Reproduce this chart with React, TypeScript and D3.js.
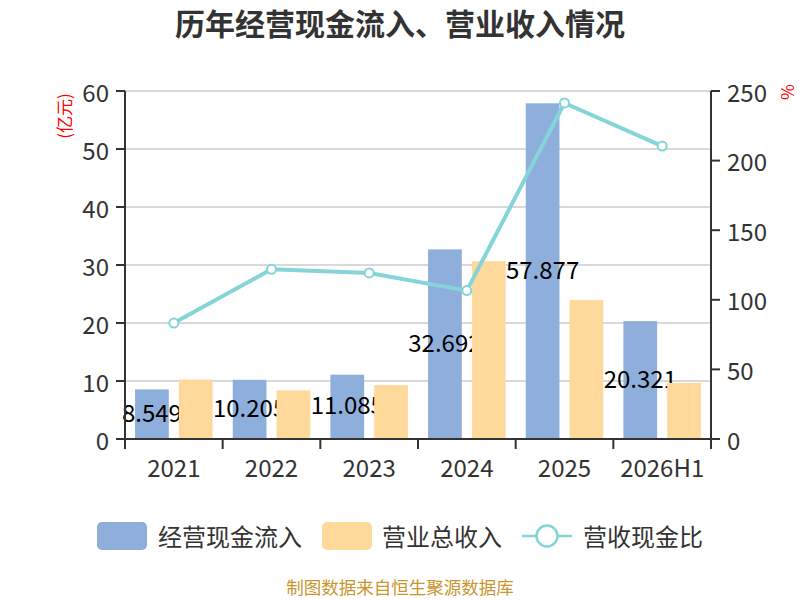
import React from 'react';
import * as d3 from 'd3';

const categories = ['2021', '2022', '2023', '2024', '2025', '2026H1'];
const cashInflow = [8.549, 10.205, 11.085, 32.692, 57.877, 20.321];
const revenue = [10.26, 8.37, 9.29, 30.66, 23.98, 9.66];
const ratio = [83.3, 121.9, 119.3, 106.6, 241.4, 210.4];
const leftTicks = [0, 10, 20, 30, 40, 50, 60];
const rightTicks = [0, 50, 100, 150, 200, 250];
const seriesNames = ['经营现金流入', '营业总收入', '营收现金比'];

const font = '"Noto Sans CJK SC", "Noto Sans", sans-serif';
const blue = '#8EAEDB';
const orange = '#FFD99B';
const teal = '#84D4D8';
const axisColor = '#333';

function App() {
  const width = 800;
  const height = 600;
  const left = 125;
  const right = 711;
  const top = 91;
  const bottom = 439;

  const x0 = d3.scaleBand<string>().domain(categories).range([left, right]).padding(0);
  const x1 = d3.scaleBand<string>().domain(['cash', 'rev']).range([0, x0.bandwidth()]).padding(0.23);
  const yL = d3.scaleLinear().domain([0, 60]).range([bottom, top]);
  const yR = d3.scaleLinear().domain([0, 250]).range([bottom, top]);

  const line = d3
    .line<number>()
    .x((_, i) => (x0(categories[i]) as number) + x0.bandwidth() / 2)
    .y(d => yR(d));

  const boundaries = categories.map(c => x0(c) as number).concat([right]);

  return (
    <svg
      width={width}
      height={height}
      viewBox={`0 0 ${width} ${height}`}
      style={{ position: 'absolute', left: 0, top: 0, background: '#fff', fontFamily: font }}
    >
      <text x={400} y={22} textAnchor="middle" dominantBaseline="central" fontSize={30} fontWeight="bold" fill="#333">
        历年经营现金流入、营业收入情况
      </text>

      {/* grid */}
      {leftTicks.map(t => (
        <line key={'g' + t} x1={left} x2={right} y1={yL(t)} y2={yL(t)} stroke="#ccc" strokeWidth={1.5} />
      ))}

      {/* cash inflow bars */}
      {cashInflow.map((v, i) => (
        <rect
          key={'c' + i}
          x={(x0(categories[i]) as number) + (x1('cash') as number)}
          y={yL(v)}
          width={x1.bandwidth()}
          height={bottom - yL(v)}
          fill={blue}
        />
      ))}
      {cashInflow.map((v, i) => (
        <text
          key={'l' + i}
          x={(x0(categories[i]) as number) + (x1('cash') as number) + x1.bandwidth() / 2}
          y={(yL(v) + bottom) / 2 - 3}
          textAnchor="middle"
          dominantBaseline="central"
          fontSize={24}
          fill="#000"
        >
          {v.toFixed(3)}
        </text>
      ))}

      {/* revenue bars */}
      {revenue.map((v, i) => (
        <rect
          key={'r' + i}
          x={(x0(categories[i]) as number) + (x1('rev') as number)}
          y={yL(v)}
          width={x1.bandwidth()}
          height={bottom - yL(v)}
          fill={orange}
        />
      ))}

      {/* ratio line */}
      <path d={line(ratio) as string} fill="none" stroke={teal} strokeWidth={4} strokeLinejoin="round" />
      {ratio.map((v, i) => (
        <circle
          key={'p' + i}
          cx={(x0(categories[i]) as number) + x0.bandwidth() / 2}
          cy={yR(v)}
          r={4.5}
          fill="#fff"
          stroke={teal}
          strokeWidth={2}
        />
      ))}

      {/* left axis */}
      <line x1={left} x2={left} y1={top} y2={bottom} stroke={axisColor} strokeWidth={2} />
      {leftTicks.map(t => (
        <g key={'lt' + t}>
          <line x1={left - 9} x2={left} y1={yL(t)} y2={yL(t)} stroke={axisColor} strokeWidth={2} />
          <text x={left - 16} y={yL(t)} textAnchor="end" dominantBaseline="central" fontSize={24} fill="#333">
            {t}
          </text>
        </g>
      ))}
      <text
        transform={`translate(63,116) rotate(-90)`}
        textAnchor="middle"
        dominantBaseline="central"
        fontSize={17}
        fill="#f00"
      >
        (亿元)
      </text>

      {/* right axis */}
      <line x1={right} x2={right} y1={top} y2={bottom} stroke={axisColor} strokeWidth={2} />
      {rightTicks.map(t => (
        <g key={'rt' + t}>
          <line x1={right} x2={right + 9} y1={yR(t)} y2={yR(t)} stroke={axisColor} strokeWidth={2} />
          <text x={right + 16} y={yR(t)} textAnchor="start" dominantBaseline="central" fontSize={24} fill="#333">
            {t}
          </text>
        </g>
      ))}
      <text
        transform={`translate(788,92) rotate(90)`}
        textAnchor="middle"
        dominantBaseline="central"
        fontSize={17}
        fill="#f00"
      >
        %
      </text>

      {/* x axis */}
      <line x1={left} x2={right} y1={bottom} y2={bottom} stroke={axisColor} strokeWidth={2} />
      {boundaries.map((b, i) => (
        <line key={'xt' + i} x1={b} x2={b} y1={bottom} y2={bottom + 10} stroke={axisColor} strokeWidth={2} />
      ))}
      {categories.map(c => (
        <text
          key={'xl' + c}
          x={(x0(c) as number) + x0.bandwidth() / 2}
          y={466}
          textAnchor="middle"
          dominantBaseline="central"
          fontSize={24}
          fill="#333"
        >
          {c}
        </text>
      ))}

      {/* legend */}
      <rect x={97} y={522} width={50} height={28} rx={5} fill={blue} />
      <text x={158} y={535} dominantBaseline="central" fontSize={24} fill="#333">
        {seriesNames[0]}
      </text>
      <rect x={322} y={522} width={50} height={28} rx={5} fill={orange} />
      <text x={382} y={535} dominantBaseline="central" fontSize={24} fill="#333">
        {seriesNames[1]}
      </text>
      <line x1={522} x2={572} y1={536} y2={536} stroke={teal} strokeWidth={2.5} />
      <circle cx={547} cy={536} r={10.5} fill="#fff" stroke={teal} strokeWidth={2.5} />
      <text x={583} y={535} dominantBaseline="central" fontSize={24} fill="#333">
        {seriesNames[2]}
      </text>

      <text x={400} y={586} textAnchor="middle" dominantBaseline="central" fontSize={17.5} fill="#C9962E">
        制图数据来自恒生聚源数据库
      </text>
    </svg>
  );
}

export default App;
